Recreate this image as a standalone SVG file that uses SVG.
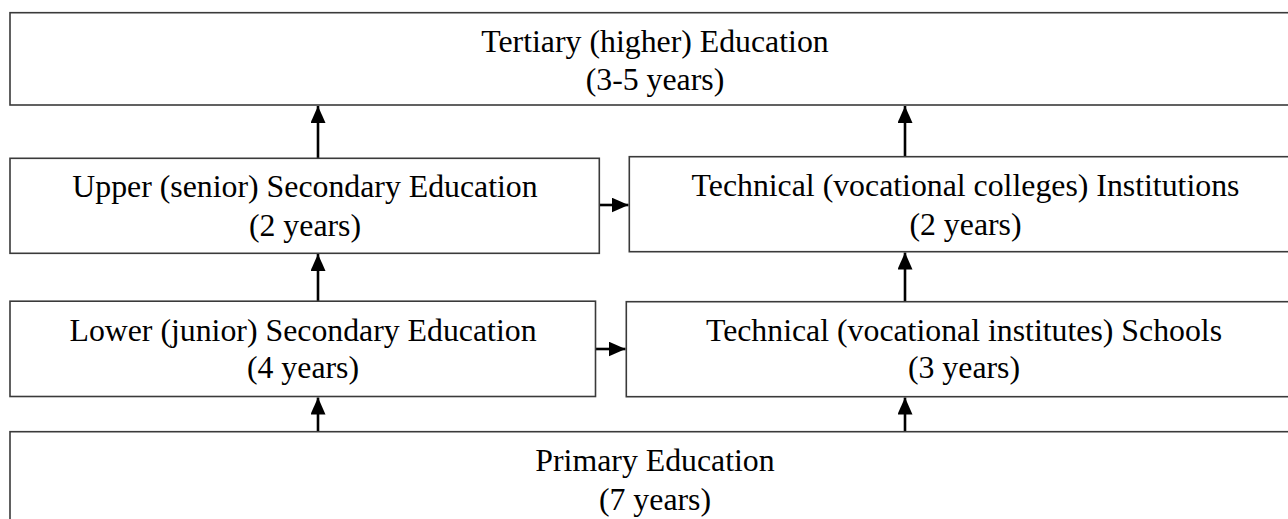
<svg xmlns="http://www.w3.org/2000/svg" width="1288" height="519" viewBox="0 0 1288 519">
  <style>
    .box { fill: #ffffff; stroke: #3a3a3a; stroke-width: 1.6; }
    .label { font-family: "Liberation Serif", "Times New Roman", serif; font-size: 31.8px; fill: #000000; text-anchor: middle; }
    .link { stroke: #000000; stroke-width: 2.6; fill: none; marker-end: url(#head); }
  </style>
  <defs>
    <marker id="head" viewBox="0 0 17 15" refX="17" refY="7.5" markerWidth="17" markerHeight="15" markerUnits="userSpaceOnUse" orient="auto">
      <path d="M0,0 L17,7.5 L0,15 z" fill="#000000"/>
    </marker>
  </defs>
  <rect width="1288" height="519" fill="#ffffff"/>

  <!-- connectors -->
  <g id="connectors">
    <line class="link" x1="318" y1="158" x2="318" y2="106"/>
    <line class="link" x1="905" y1="156" x2="905" y2="106"/>
    <line class="link" x1="318" y1="301" x2="318" y2="254"/>
    <line class="link" x1="905" y1="301" x2="905" y2="252.5"/>
    <line class="link" x1="318" y1="431" x2="318" y2="397.5"/>
    <line class="link" x1="905" y1="431" x2="905" y2="397.5"/>
    <line class="link" x1="600" y1="205" x2="628.5" y2="205"/>
    <line class="link" x1="596" y1="349" x2="625.5" y2="349"/>
  </g>

  <!-- tertiary -->
  <g id="tertiary">
    <rect class="box" x="10" y="12.7" width="1292" height="92.3"/>
    <text class="label" x="655" y="51.5">Tertiary (higher) Education</text>
    <text class="label" x="655" y="90">(3-5 years)</text>
  </g>

  <!-- upper secondary -->
  <g id="upper-secondary">
    <rect class="box" x="10" y="158.3" width="589.3" height="95"/>
    <text class="label" x="305" y="197">Upper (senior) Secondary Education</text>
    <text class="label" x="305" y="235.5">(2 years)</text>
  </g>

  <!-- technical colleges -->
  <g id="technical-colleges">
    <rect class="box" x="629.3" y="156.7" width="672" height="95"/>
    <text class="label" x="965.5" y="195.5">Technical (vocational colleges) Institutions</text>
    <text class="label" x="965.5" y="235">(2 years)</text>
  </g>

  <!-- lower secondary -->
  <g id="lower-secondary">
    <rect class="box" x="10" y="301.2" width="585.5" height="95.3"/>
    <text class="label" x="303" y="340.5">Lower (junior) Secondary Education</text>
    <text class="label" x="303" y="378">(4 years)</text>
  </g>

  <!-- technical schools -->
  <g id="technical-schools">
    <rect class="box" x="626.3" y="301.7" width="675" height="95"/>
    <text class="label" x="964" y="340.5">Technical (vocational institutes) Schools</text>
    <text class="label" x="964" y="378">(3 years)</text>
  </g>

  <!-- primary -->
  <g id="primary">
    <rect class="box" x="10" y="431.7" width="1292" height="100"/>
    <text class="label" x="655" y="471">Primary Education</text>
    <text class="label" x="655" y="509.5">(7 years)</text>
  </g>
</svg>
